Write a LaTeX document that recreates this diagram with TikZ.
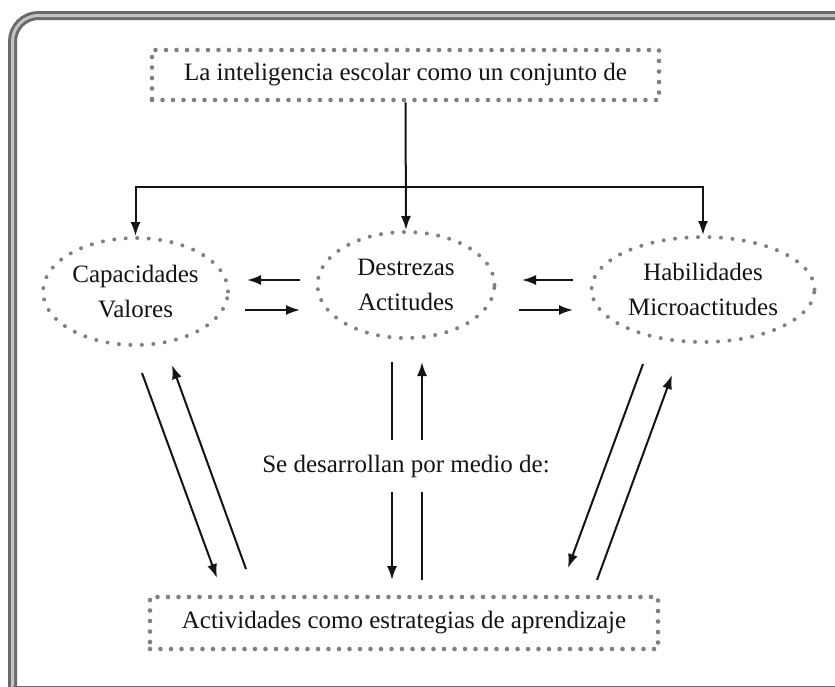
\documentclass[tikz,border=0pt]{standalone}
\usepackage{fontspec}
\setmainfont{Liberation Serif}
\usetikzlibrary{arrows.meta,shapes.geometric}
\definecolor{dotgray}{HTML}{808080}
\definecolor{framegray}{HTML}{6A6A6A}
\definecolor{framemid}{HTML}{C4C4C4}
\definecolor{inkc}{HTML}{141414}
\begin{document}
\begin{tikzpicture}[x=1pt,y=-1pt,
  txt/.style={font=\fontsize{25}{35}\selectfont, text=inkc, align=center},
  dotbox/.style={draw=dotgray, line width=4.6pt, dash pattern=on 0pt off 10.5pt, line cap=round, minimum width=507pt, minimum height=50pt, inner sep=0pt},
  dotell/.style={ellipse, draw=dotgray, line width=4pt, dash pattern=on 0pt off 11.5pt, line cap=round, inner sep=0pt},
  arr/.style={draw=inkc, line width=2pt, -{Latex[length=14pt,width=10pt]}},
  frameline/.style={draw=framegray, line width=3pt, double=framemid, double distance=3pt}
]
\useasboundingbox (0,0) rectangle (835,686);
\clip (0,0) rectangle (835,686);
\fill[white] (0,0) rectangle (835,686);
% frame
\draw[frameline, rounded corners=26pt] (12.5,700) -- (12.5,15.5) -- (870,15.5);
\draw[frameline] (12.5,690) -- (870,690);
% nodes
\node[dotbox, txt] (top) at (405.5,75) {La inteligencia escolar como un conjunto de};
\node[dotell, txt, minimum width=185pt, minimum height=107pt] (cap) at (135.5,291.5) {Capacidades\\Valores};
\node[dotell, txt, minimum width=177pt, minimum height=106pt] (des) at (406,285) {Destrezas\\Actitudes};
\node[dotell, txt, minimum width=223pt, minimum height=105pt] (hab) at (703,289.5) {Habilidades\\Microactitudes};
\node[dotbox, txt, minimum width=508pt, minimum height=52pt] (act) at (404,623) {Actividades como estrategias de aprendizaje};
% top connectors
\coordinate (j) at (405.5,187);
\draw[arr] (top.south) -- (des.north);
\draw[arr] (j) -| (cap.north);
\draw[arr] (j) -| (hab.north);
% horizontal arrows between ellipses
\coordinate (a1s) at (300,280); \coordinate (a1e) at (247,280);
\coordinate (a2s) at (245,310); \coordinate (a2e) at (300,310);
\coordinate (a3s) at (573,280); \coordinate (a3e) at (522,280);
\coordinate (a4s) at (519,310); \coordinate (a4e) at (573,310);
\draw[arr] (a1s) -- (a1e);
\draw[arr] (a2s) -- (a2e);
\draw[arr] (a3s) -- (a3e);
\draw[arr] (a4s) -- (a4e);
% arrows to and from the bottom box
\coordinate (d1s) at (142,373); \coordinate (d1e) at (217,578);
\coordinate (d2s) at (246,569); \coordinate (d2e) at (172,365);
\coordinate (v1s) at (392,362); \coordinate (v1e) at (392,580);
\coordinate (v2s) at (422,580); \coordinate (v2e) at (422,362);
\coordinate (d3s) at (643,364); \coordinate (d3e) at (568,568);
\coordinate (d4s) at (597,580); \coordinate (d4e) at (672,375);
\draw[arr] (d1s) -- (d1e);
\draw[arr] (d2s) -- (d2e);
\draw[arr] (v1s) -- (v1e);
\draw[arr] (v2s) -- (v2e);
\draw[arr] (d3s) -- (d3e);
\draw[arr] (d4s) -- (d4e);
% label
\node[txt, fill=white, inner xsep=3pt, minimum height=52pt] (lab) at (406,466) {Se desarrollan por medio de:};
\end{tikzpicture}
\end{document}
